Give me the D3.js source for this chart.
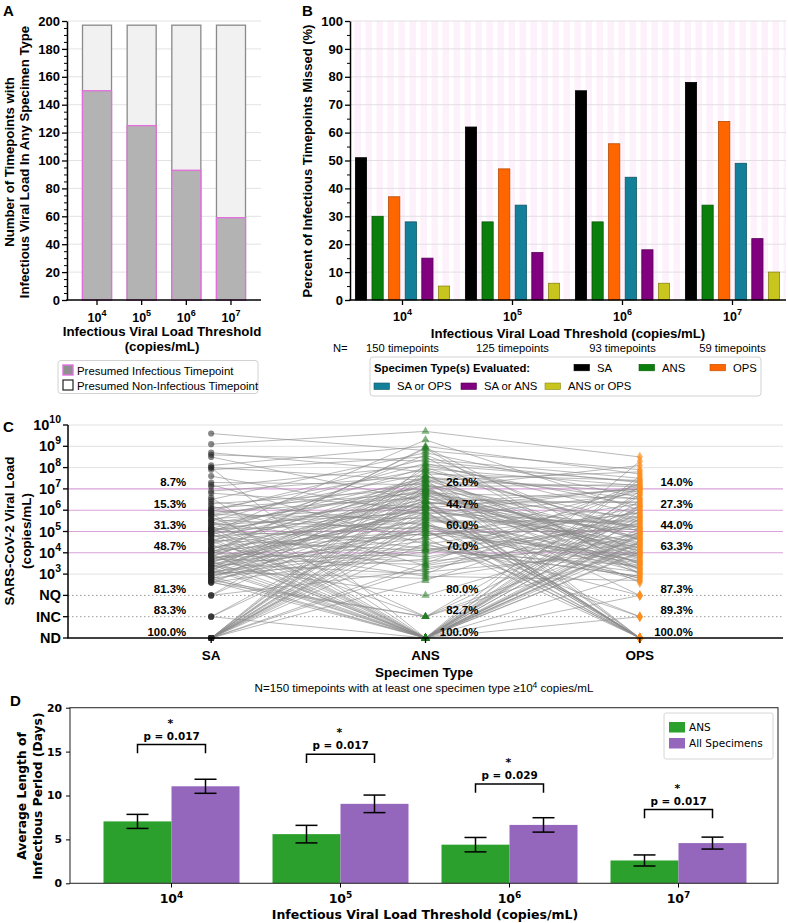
<!DOCTYPE html>
<html><head><meta charset="utf-8">
<script src="https://cdn.jsdelivr.net/npm/d3@7/dist/d3.min.js"></script>
<style>html,body{margin:0;padding:0;background:#fff;}svg{display:block;}</style>
</head><body>
<script>
// ================= DATA =================
// Panel A
const thresholdExps = ["4","5","6","7"];
const totalTimepoints = [197,197,197,197];
const infectiousTimepoints = [150,125,93,59];

// Panel B
const specimenCombos = ["SA","ANS","OPS","SA or OPS","SA or ANS","ANS or OPS"];
const comboColors  = ["#000000","#0b7f0b","#ff6600","#147f98","#800080","#c8c61e"];
const comboStrokes = ["#000000","#075a07","#b84a00","#0c5566","#550055","#8a8812"];
const missedSA       = [51,62,75,78];
const missedANS      = [30,28,28,34];
const missedOPS      = [37,47,56,64];
const missedSAorOPS  = [28,34,44,49];
const missedSAorANS  = [15,17,18,22];
const missedANSorOPS = [5,6,6,10];
const nTimepointLabels = ["150 timepoints","125 timepoints","93 timepoints","59 timepoints"];

// Panel C  (0 = ND, 1 = INC, 2 = NQ, otherwise log10 copies/mL)
const specimenTypes = ["SA","ANS","OPS"];
const loadTickLabels = ["ND","INC","NQ","10^3","10^4","10^5","10^6","10^7","10^8","10^9","10^10"];
const saLoad = [9.6,9.1,8.7,8.6,8.5,8.1,8.0,8.0,7.9,7.6, 7.3,7.2,7.1,6.9,6.8,6.6,6.5,6.4,6.3,6.2,
  6.1,6.05,6.0,5.95,5.9,5.85,5.8,5.8,5.7,5.7, 5.6,5.55,5.5,5.5,5.4,5.4,5.3,5.3,5.2,5.2,
  5.15,5.1,5.1,5.05,5.0,5.0,5.0,4.95,4.9,4.9, 4.85,4.8,4.8,4.7,4.7,4.6,4.6,4.55,4.5,4.5,
  4.4,4.4,4.3,4.3,4.2,4.2,4.15,4.1,4.1,4.05, 4.0,4.0,4.0,3.95,3.8,3.6,3.4,3.2,3.0,2.8,
  2.6,0,0,0,0,1,2,3.9,3.5,3.3, 3.1,2.9,2.7,0,0,0,3.7,3.45,2.65,0,
  3.9,0,3.85,0,3.8,3.75,0,3.7,2,3.65, 0,3.6,0,3.55,1,3.5,0,3.4,0,3.35,
  3.3,0,3.25,0,3.2,3.15,0,3.1,2,3.05, 0,3.0,2.95,0,2.9,1,2.85,0,2.8,2.75,
  0,2.7,2.6,0,2.6,3.05,0,3.35,0,3.55];
const ansLoad = [8.8,9.7,7.8,8.3,6.4,9.0,7.4,0,8.5,5.8, 7.2,4.4,8.1,7.6,6.1,0,8.7,5.3,7.0,3.4,
  6.8,7.9,4.8,8.4,6.6,0,7.3,5.6,1,7.7, 6.2,5.1,8.2,0,6.9,4.2,7.1,5.9,3.1,0,
  7.5,6.3,5.4,0,8.0,6.7,4.6,9.3,6.0,0, 7.4,5.2,3.8,0,7.0,6.5,4.1,1,8.6,5.7,
  0,7.2,2.9,5.0,6.4,0,7.6,4.9,0,6.2, 3.6,8.9,5.5,0,3.9,0,2,0,3.7,0,
  1,3.5,0,3.3,0,0,3.2,0,3.0,0, 2.8,0,1,0,2.7,0,3.45,0,0,0,
  8.95,8.15,6.95,5.95,7.55,4.9,6.9,5.9,7.95,6.85, 4.8,5.8,7.85,6.8,5.75,4.7,7.65,6.75,5.65,4.55,
  7.45,6.7,5.6,4.45,6.6,7.35,5.5,4.35,6.5,7.25, 5.45,6.45,4.25,7.15,5.35,6.4,6.3,5.3,4.15,7.05,
  6.25,5.2,4.05,7.0,6.2,5.1,6.15,6.1,5.05,6.05];
const opsLoad = [7.9,8.5,6.5,7.3,5.2,7.7,4.6,6.9,3.2,7.1, 0,5.9,6.2,5.5,7.0,4.3,6.6,3.6,8.1,4.9,
  2,5.1,6.3,7.5,4.1,5.6,3.9,6.8,4.7,7.4, 0,3.3,5.8,6.1,4.4,2.9,7.2,5.3,4.0,1,
  3.7,6.4,0,4.8,5.0,3.5,7.0,6.0,4.5,3.0, 7.8,2.8,5.4,6.7,4.2,0,3.4,5.7,4.6,3.1,
  7.6,5.2,2.7,1,4.9,6.2,3.8,5.1,2,0, 4.4,3.0,5.5,7.45,6.95,5.95,4.95,8.3,5.75,4.85,
  6.75,7.25,5.6,4.7,6.45,4.55,5.35,4.45,7.05,6.25, 4.3,5.15,4.15,5.0,6.05,4.05,5.7,4.9,4.5,4.0,
  3.95,7.35,3.9,0,6.85,3.85,3.75,0,7.15,3.65, 5.85,3.6,0,6.55,3.55,0,3.45,5.65,3.4,2,
  0,4.75,3.3,1,3.2,7.1,0,3.1,6.35,3.0, 5.45,0,2.9,4.65,2.8,0,7.0,2.7,5.25,2.6,
  0,3.5,6.15,3.25,4.35,0,5.05,4.25,0,4.1];
const cLabelLevels = [7,6,5,4,2,1,0];

// Panel D
const periodGroups = ["ANS","All Specimens"];
const periodColors = ["#2ca02c","#9467bd"];
const ansPeriod = [7.05,5.6,4.4,2.6];
const ansPeriodErr = [0.8,1.0,0.82,0.63];
const allPeriod = [11.05,9.05,6.65,4.58];
const allPeriodErr = [0.8,1.0,0.82,0.68];
const pValues = ["0.017","0.017","0.029","0.017"];
const bracketHeights = [15.8,14.7,11.3,8.4];

// ================= DRAWING =================
const SANS = "'Liberation Sans', Arial, Helvetica, sans-serif";
const DJV = "'DejaVu Sans', sans-serif";
const svg = d3.select("body").append("svg").attr("width",788).attr("height",923).attr("font-family",SANS);
svg.append("rect").attr("width",788).attr("height",923).attr("fill","#fff");

function powLabel(sel, exp, base, size, supSize, dy){
  sel.append("tspan").text(base).attr("font-size",size);
  sel.append("tspan").text(exp).attr("font-size",supSize).attr("dy",dy);
}
function styleAxisText(g, size, fam){
  g.selectAll("text").attr("font-family",fam||SANS).attr("font-size",size).attr("font-weight","bold").attr("fill","#000");
  g.selectAll("line").attr("stroke","#000");
  g.select(".domain").attr("stroke","#000");
}

// ---------- Panel A ----------
const gA = svg.append("g");
gA.append("text").attr("x",3).attr("y",16).attr("font-size",15).attr("font-weight","bold").text("A");
const xA = d3.scaleBand().domain(thresholdExps).range([67,261]).paddingInner(0.35).paddingOuter(0.347);
const yA = d3.scaleLinear().domain([0,200]).range([300,21]);
gA.append("g").selectAll("line").data(yA.ticks(10).filter(d=>d>0)).join("line")
  .attr("x1",67).attr("x2",261).attr("y1",d=>yA(d)).attr("y2",d=>yA(d)).attr("stroke","#e3e3e3");
gA.append("g").selectAll("rect").data(thresholdExps).join("rect")
  .attr("x",d=>xA(d)).attr("width",xA.bandwidth())
  .attr("y",(d,i)=>yA(totalTimepoints[i])).attr("height",(d,i)=>yA(0)-yA(totalTimepoints[i]))
  .attr("fill","#f1f1f1").attr("stroke","#8a8a8a").attr("stroke-width",1.3);
gA.append("g").selectAll("rect").data(thresholdExps).join("rect")
  .attr("x",d=>xA(d)).attr("width",xA.bandwidth())
  .attr("y",(d,i)=>yA(infectiousTimepoints[i])).attr("height",(d,i)=>yA(0)-yA(infectiousTimepoints[i]))
  .attr("fill","#b3b3b3").attr("stroke","#e26fdc").attr("stroke-width",1.3);
const ayA = gA.append("g").attr("transform","translate(67,0)")
  .call(d3.axisLeft(yA).ticks(10).tickSize(5).tickSizeOuter(0).tickPadding(2));
styleAxisText(ayA,13); ayA.select(".domain").attr("stroke-width",1.5); ayA.selectAll(".tick line").attr("stroke-width",1.3);
gA.append("g").attr("transform","translate(67,0)")
  .call(d3.axisLeft(yA).tickValues(d3.range(5,200,5).filter(v=>v%20!==0)).tickSize(3).tickFormat(""))
  .call(g=>{g.select(".domain").remove(); g.selectAll("line").attr("stroke","#000");});
gA.append("line").attr("x1",66.25).attr("x2",261).attr("y1",300).attr("y2",300).attr("stroke","#000").attr("stroke-width",1.5);
gA.append("g").selectAll("line").data(thresholdExps).join("line")
  .attr("x1",d=>xA(d)+xA.bandwidth()/2).attr("x2",d=>xA(d)+xA.bandwidth()/2).attr("y1",300).attr("y2",305)
  .attr("stroke","#000").attr("stroke-width",1.3);
gA.append("g").selectAll("text").data(thresholdExps).join("text")
  .attr("x",d=>xA(d)+xA.bandwidth()/2).attr("y",322).attr("text-anchor","middle").attr("font-weight","bold")
  .each(function(d){powLabel(d3.select(this),d,"10",12.5,9,-6);});
gA.append("text").attr("x",162).attr("y",336).attr("text-anchor","middle").attr("font-size",13.3).attr("font-weight","bold").text("Infectious Viral Load Threshold");
gA.append("text").attr("x",162).attr("y",351).attr("text-anchor","middle").attr("font-size",13.3).attr("font-weight","bold").text("(copies/mL)");
gA.append("text").attr("transform","translate(14,162) rotate(-90)").attr("text-anchor","middle").attr("font-size",13.2).attr("font-weight","bold").text("Number of Timepoints with");
gA.append("text").attr("transform","translate(29,162) rotate(-90)").attr("text-anchor","middle").attr("font-size",13.2).attr("font-weight","bold").text("Infectious Viral Load In Any Specimen Type");
// legend A
const lgA = gA.append("g");
lgA.append("rect").attr("x",58).attr("y",360.5).attr("width",200).attr("height",33).attr("rx",3).attr("fill","#fff").attr("stroke","#d2d2d2");
lgA.append("rect").attr("x",63).attr("y",365).attr("width",10).attr("height",10).attr("fill","#8f8f8f").attr("stroke","#e070e0").attr("stroke-width",1.4);
lgA.append("rect").attr("x",63).attr("y",380).attr("width",10).attr("height",10).attr("fill","#fff").attr("stroke","#222").attr("stroke-width",1.2);
lgA.append("text").attr("x",77).attr("y",374.5).attr("font-size",11.4).text("Presumed Infectious Timepoint");
lgA.append("text").attr("x",77).attr("y",389.5).attr("font-size",11.4).text("Presumed Non-Infectious Timepoint");

// ---------- Panel B ----------
const gB = svg.append("g");
gB.append("text").attr("x",302).attr("y",16).attr("font-size",15).attr("font-weight","bold").text("B");
const xB = d3.scaleBand().domain(thresholdExps).range([347.5,787.5]);
const xSub = d3.scaleBand().domain(specimenCombos).range([-49.8,49.8]).paddingInner(0.325).paddingOuter(0.1625);
const yB = d3.scaleLinear().domain([0,100]).range([300,21]);
const missedSeries = [missedSA,missedANS,missedOPS,missedSAorOPS,missedSAorANS,missedANSorOPS];
gB.append("rect").attr("x",350).attr("y",21).attr("width",436).attr("height",279).attr("fill","#fdf1fb");
gB.append("g").selectAll("rect").data(d3.range(350,786,11)).join("rect")
  .attr("x",d=>d).attr("y",21).attr("width",4.5).attr("height",279).attr("fill","#ffffff");
gB.append("g").selectAll("line").data(yB.ticks(10).filter(d=>d>0)).join("line")
  .attr("x1",350).attr("x2",786).attr("y1",d=>yB(d)).attr("y2",d=>yB(d)).attr("stroke","#e4dfe4");
specimenCombos.forEach((c,j)=>{
  gB.append("g").selectAll("rect").data(thresholdExps).join("rect")
    .attr("x",d=>xB(d)+xB.bandwidth()/2+xSub(c)).attr("width",xSub.bandwidth())
    .attr("y",(d,i)=>yB(missedSeries[j][i])).attr("height",(d,i)=>yB(0)-yB(missedSeries[j][i]))
    .attr("fill",comboColors[j]).attr("stroke",comboStrokes[j]).attr("stroke-width",0.8);
});
const ayB = gB.append("g").attr("transform","translate(350,0)")
  .call(d3.axisLeft(yB).ticks(10).tickSize(5).tickSizeOuter(0).tickPadding(2));
styleAxisText(ayB,13); ayB.select(".domain").attr("stroke-width",1.5); ayB.selectAll(".tick line").attr("stroke-width",1.3);
gB.append("g").attr("transform","translate(350,0)")
  .call(d3.axisLeft(yB).tickValues(d3.range(5,100,10)).tickSize(3).tickFormat(""))
  .call(g=>{g.select(".domain").remove(); g.selectAll("line").attr("stroke","#000");});
gB.append("line").attr("x1",349.25).attr("x2",786).attr("y1",300).attr("y2",300).attr("stroke","#000").attr("stroke-width",1.5);
gB.append("g").selectAll("line").data(thresholdExps).join("line")
  .attr("x1",d=>xB(d)+xB.bandwidth()/2).attr("x2",d=>xB(d)+xB.bandwidth()/2).attr("y1",300).attr("y2",305)
  .attr("stroke","#000").attr("stroke-width",1.3);
gB.append("g").selectAll("text").data(thresholdExps).join("text")
  .attr("x",d=>xB(d)+xB.bandwidth()/2).attr("y",321).attr("text-anchor","middle").attr("font-weight","bold")
  .each(function(d){powLabel(d3.select(this),d,"10",12.5,9,-6);});
gB.append("text").attr("x",568).attr("y",338).attr("text-anchor","middle").attr("font-size",13.2).attr("font-weight","bold").text("Infectious Viral Load Threshold (copies/mL)");
gB.append("text").attr("transform","translate(312,161) rotate(-90)").attr("text-anchor","middle").attr("font-size",13).attr("font-weight","bold").text("Percent of Infectious Timepoints Missed (%)");
gB.append("text").attr("x",333).attr("y",352).attr("font-size",11.2).text("N=");
gB.append("g").selectAll("text").data(thresholdExps).join("text")
  .attr("x",d=>xB(d)+xB.bandwidth()/2).attr("y",352).attr("text-anchor","middle").attr("font-size",11.2)
  .text((d,i)=>nTimepointLabels[i]);
// legend B
const lgB = gB.append("g");
lgB.append("rect").attr("x",370).attr("y",357).attr("width",391).attr("height",39).attr("rx",3).attr("fill","#fff").attr("stroke","#d2d2d2");
lgB.append("text").attr("x",374).attr("y",371.5).attr("font-size",11.3).attr("font-weight","bold").text("Specimen Type(s) Evaluated:");
const legendBPos = [[574,364.3],[639,364.3],[710,364.3],[374,383],[461,383],[545,383]];
specimenCombos.forEach((c,j)=>{
  lgB.append("rect").attr("x",legendBPos[j][0]).attr("y",legendBPos[j][1]).attr("width",15.5).attr("height",6.5)
    .attr("fill",comboColors[j]).attr("stroke",comboStrokes[j]).attr("stroke-width",0.6);
  lgB.append("text").attr("x",legendBPos[j][0]+23).attr("y",legendBPos[j][1]+7.2).attr("font-size",11.3).text(c);
});

// ---------- Panel C ----------
const gC = svg.append("g");
gC.append("text").attr("x",3).attr("y",432).attr("font-size",15).attr("font-weight","bold").text("C");
const xC = d3.scalePoint().domain(specimenTypes).range([68,783]).padding(0.668);
const yC = d3.scaleLinear().domain([0,10]).range([638,425]);
const levels = d3.range(0,11);
gC.append("g").selectAll("line").data(levels.filter(l=>l===3||l>=8)).join("line")
  .attr("x1",68).attr("x2",783).attr("y1",d=>yC(d)).attr("y2",d=>yC(d)).attr("stroke","#e2e2e2");
gC.append("g").selectAll("line").data(levels.filter(l=>l===1||l===2)).join("line")
  .attr("x1",68).attr("x2",783).attr("y1",d=>yC(d)).attr("y2",d=>yC(d)).attr("stroke","#999").attr("stroke-dasharray","1.5,2.5");
gC.append("g").selectAll("line").data(levels.filter(l=>l>=4&&l<=7)).join("line")
  .attr("x1",68).attr("x2",783).attr("y1",d=>yC(d)).attr("y2",d=>yC(d)).attr("stroke","#d9a2d9").attr("stroke-width",1.1);
const rows = saLoad.map((v,i)=>[v,ansLoad[i],opsLoad[i]]);
const lineC = d3.line().x((d,k)=>xC(specimenTypes[k])).y(d=>yC(d));
gC.append("g").selectAll("path").data(rows).join("path")
  .attr("d",d=>lineC(d)).attr("fill","none").attr("stroke","#8a8a8a").attr("stroke-width",0.8).attr("stroke-opacity",0.75);
gC.append("g").selectAll("circle").data(saLoad).join("circle")
  .attr("cx",xC("SA")).attr("cy",d=>yC(d)).attr("r",3.1).attr("fill","#262626").attr("fill-opacity",0.55);
gC.append("g").selectAll("path").data(ansLoad).join("path")
  .attr("d",d3.symbol(d3.symbolTriangle,30)).attr("transform",d=>`translate(${xC("ANS")},${yC(d)})`)
  .attr("fill","#1f7a1f").attr("fill-opacity",0.55);
gC.append("g").selectAll("path").data(opsLoad).join("path")
  .attr("d",d3.symbol(d3.symbolDiamond,32)).attr("transform",d=>`translate(${xC("OPS")},${yC(d)})`)
  .attr("fill","#ff8c1a").attr("fill-opacity",0.7);
// percent labels
const loadsC = [saLoad,ansLoad,opsLoad];
specimenTypes.forEach((sp,k)=>{
  gC.append("g").selectAll("text").data(cLabelLevels).join("text")
    .attr("x",k===0?xC(sp)-25:xC(sp)+53).attr("y",d=>yC(d)-2.5).attr("text-anchor","end")
    .attr("font-size",11.4).attr("font-weight","bold")
    .text(d=>(loadsC[k].filter(v=>v>=d).length/loadsC[k].length*100).toFixed(1)+"%");
});
// axes C
gC.append("line").attr("x1",68).attr("x2",68).attr("y1",425).attr("y2",638).attr("stroke","#000").attr("stroke-width",1.5);
gC.append("g").selectAll("line").data(levels).join("line")
  .attr("x1",63).attr("x2",68).attr("y1",d=>yC(d)).attr("y2",d=>yC(d)).attr("stroke","#000").attr("stroke-width",1.3);
gC.append("line").attr("x1",67.25).attr("x2",783).attr("y1",638).attr("y2",638).attr("stroke","#000").attr("stroke-width",1.6);
gC.append("g").selectAll("line").data(specimenTypes).join("line")
  .attr("x1",d=>xC(d)).attr("x2",d=>xC(d)).attr("y1",638).attr("y2",643).attr("stroke","#000").attr("stroke-width",1.3);
gC.append("g").selectAll("text").data(levels).join("text")
  .attr("x",61).attr("y",d=>yC(d)+5).attr("text-anchor","end").attr("font-weight","bold")
  .each(function(d){
    const lab = loadTickLabels[d]; const t=d3.select(this);
    if(lab.indexOf("^")>=0){ const p=lab.split("^"); powLabel(t,p[1],p[0],14.5,10.5,-7); }
    else t.attr("font-size",14.5).text(lab);
  });
gC.append("g").selectAll("text").data(specimenTypes).join("text")
  .attr("x",d=>xC(d)).attr("y",660).attr("text-anchor","middle").attr("font-size",13.5).attr("font-weight","bold").text(d=>d);
gC.append("text").attr("x",424).attr("y",677).attr("text-anchor","middle").attr("font-size",13.5).attr("font-weight","bold").text("Specimen Type");
const nText = gC.append("text").attr("x",424).attr("y",692).attr("text-anchor","middle").attr("font-size",11.6);
nText.append("tspan").text("N=150 timepoints with at least one specimen type \u226510");
nText.append("tspan").attr("font-size",8.5).attr("dy",-4.5).text("4");
nText.append("tspan").attr("dy",4.5).text(" copies/mL");
gC.append("text").attr("transform","translate(14,531) rotate(-90)").attr("text-anchor","middle").attr("font-size",13.5).attr("font-weight","bold").text("SARS-CoV-2 Viral Load");
gC.append("text").attr("transform","translate(31,531) rotate(-90)").attr("text-anchor","middle").attr("font-size",13.5).attr("font-weight","bold").text("(copies/mL)");

// ---------- Panel D ----------
const gD = svg.append("g").attr("font-family",DJV);
gD.append("text").attr("x",10).attr("y",706).attr("font-family",SANS).attr("font-size",15).attr("font-weight","bold").text("D");
const xD = d3.scaleBand().domain(thresholdExps).range([87,763]);
const xDSub = d3.scaleBand().domain(periodGroups).range([-68,68]);
const yD = d3.scaleLinear().domain([0,20]).range([883.3,707.7]);
const periodSeries = [ansPeriod,allPeriod];
const periodErrs = [ansPeriodErr,allPeriodErr];
periodGroups.forEach((g,j)=>{
  gD.append("g").selectAll("rect").data(thresholdExps).join("rect")
    .attr("x",d=>xD(d)+xD.bandwidth()/2+xDSub(g)).attr("width",xDSub.bandwidth())
    .attr("y",(d,i)=>yD(periodSeries[j][i])).attr("height",(d,i)=>yD(0)-yD(periodSeries[j][i]))
    .attr("fill",periodColors[j]);
});
periodGroups.forEach((g,j)=>{
  const eg = gD.append("g").attr("stroke","#000").attr("stroke-width",1.5);
  thresholdExps.forEach((d,i)=>{
    const cx = xD(d)+xD.bandwidth()/2+xDSub(g)+xDSub.bandwidth()/2;
    const hi = yD(periodSeries[j][i]+periodErrs[j][i]), lo = yD(periodSeries[j][i]-periodErrs[j][i]);
    eg.append("line").attr("x1",cx).attr("x2",cx).attr("y1",hi).attr("y2",lo);
    eg.append("line").attr("x1",cx-11).attr("x2",cx+11).attr("y1",hi).attr("y2",hi);
    eg.append("line").attr("x1",cx-11).attr("x2",cx+11).attr("y1",lo).attr("y2",lo);
  });
});
thresholdExps.forEach((d,i)=>{
  const c = xD(d)+xD.bandwidth()/2;
  const x1 = c+xDSub("ANS")+xDSub.bandwidth()/2, x2 = c+xDSub("All Specimens")+xDSub.bandwidth()/2;
  const yt = yD(bracketHeights[i]), yb = yD(bracketHeights[i]-1);
  gD.append("path").attr("d",`M${x1},${yb}V${yt}H${x2}V${yb}`).attr("fill","none").attr("stroke","#000").attr("stroke-width",1.5);
  gD.append("text").attr("x",c).attr("y",yt-5).attr("text-anchor","middle").attr("font-size",10.4).attr("font-weight","bold").text("p = "+pValues[i]);
  gD.append("text").attr("x",c-1).attr("y",yt-17.8).attr("text-anchor","middle").attr("font-size",11).attr("font-weight","bold").text("*");
});
gD.append("rect").attr("x",70).attr("y",707.7).attr("width",708).attr("height",175.6).attr("fill","none").attr("stroke","#333").attr("stroke-width",1.1);
const ayD = gD.append("g").attr("transform","translate(70,0)").call(d3.axisLeft(yD).ticks(4).tickSize(4).tickSizeOuter(0).tickPadding(4));
ayD.select(".domain").remove(); styleAxisText(ayD,10.8,DJV);
gD.append("g").selectAll("line").data(thresholdExps).join("line")
  .attr("x1",d=>xD(d)+xD.bandwidth()/2).attr("x2",d=>xD(d)+xD.bandwidth()/2).attr("y1",883.3).attr("y2",887.5).attr("stroke","#000");
gD.append("g").selectAll("text").data(thresholdExps).join("text")
  .attr("x",d=>xD(d)+xD.bandwidth()/2).attr("y",903).attr("text-anchor","middle").attr("font-weight","bold")
  .each(function(d){powLabel(d3.select(this),d,"10",12.5,9,-5);});
gD.append("text").attr("x",425).attr("y",919).attr("text-anchor","middle").attr("font-size",12.5).attr("font-weight","bold").text("Infectious Viral Load Threshold (copies/mL)");
gD.append("text").attr("transform","translate(26,796) rotate(-90)").attr("text-anchor","middle").attr("font-size",12.3).attr("font-weight","bold").text("Average Length of");
gD.append("text").attr("transform","translate(42,796) rotate(-90)").attr("text-anchor","middle").attr("font-size",12.3).attr("font-weight","bold").text("Infectious Period (Days)");
const lgD = gD.append("g");
lgD.append("rect").attr("x",664).attr("y",713).attr("width",109).attr("height",46).attr("rx",2).attr("fill","#fff").attr("stroke","#d6d6d6");
periodGroups.forEach((g,j)=>{
  lgD.append("rect").attr("x",669).attr("y",722+j*16).attr("width",16).attr("height",10.5).attr("fill",periodColors[j]);
  lgD.append("text").attr("x",689).attr("y",731+j*16).attr("font-size",10.5).text(g);
});
</script>
</body></html>
